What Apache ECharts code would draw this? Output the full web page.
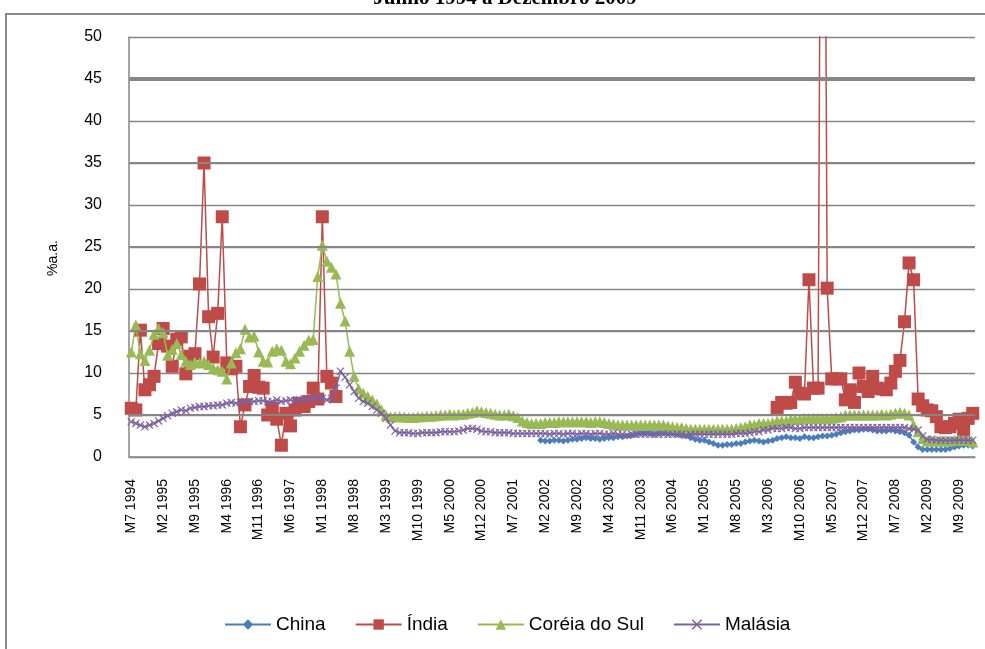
<!DOCTYPE html>
<html><head><meta charset="utf-8">
<script src="https://cdn.jsdelivr.net/npm/echarts@6/dist/echarts.min.js"></script>
<style>html,body{margin:0;padding:0;background:#fff;}#c{width:985px;height:649px;}</style>
</head><body><div id="c"></div>
<script>
// Monthly categories M7 1994 .. M12 2009
const startYear = 1994, startMonth = 7, nMonths = 186;
const categories = [];
for (let i = 0; i < nMonths; i++) {
  const m = (startMonth - 1 + i) % 12 + 1;
  const y = startYear + Math.floor((startMonth - 1 + i) / 12);
  categories.push('M' + m + ' ' + y);
}
const seriesNames = ['China', 'Índia', 'Coréia do Sul', 'Malásia'];

const china = [
  null,null,null,null,null,null,
  null,null,null,null,null,null,null,null,null,null,null,null,
  null,null,null,null,null,null,null,null,null,null,null,null,
  null,null,null,null,null,null,null,null,null,null,null,null,
  null,null,null,null,null,null,null,null,null,null,null,null,
  null,null,null,null,null,null,null,null,null,null,null,null,
  null,null,null,null,null,null,null,null,null,null,null,null,
  null,null,null,null,null,null,null,null,null,null,null,null,
  2.0,1.9,1.9,2.0,2.0,1.9,2.0,2.1,2.1,2.2,2.3,2.2,
  2.2,2.1,2.2,2.3,2.3,2.4,2.4,2.5,2.6,2.7,2.8,2.8,
  2.8,2.7,2.8,2.9,2.8,2.8,2.7,2.6,2.5,2.3,2.1,2.0,
  2.0,1.8,1.6,1.4,1.4,1.5,1.5,1.6,1.6,1.8,1.9,2.0,
  1.9,1.8,1.9,2.0,2.2,2.3,2.4,2.3,2.3,2.2,2.4,2.3,
  2.3,2.4,2.5,2.5,2.6,2.7,2.9,3.0,3.1,3.2,3.2,3.3,
  3.3,3.2,3.1,3.1,3.1,3.2,3.1,3.0,2.9,2.6,1.8,1.2,
  0.9,0.9,0.9,0.9,0.9,0.9,1.0,1.2,1.3,1.4,1.4,1.3
];
const india = [
  5.8,5.6,15.1,8.0,8.6,9.6,
  13.5,15.3,13.2,10.8,14.0,14.3,9.9,12.0,12.3,20.6,35.0,16.7,
  11.9,17.1,28.6,11.2,10.5,10.8,3.6,6.2,8.4,9.7,8.3,8.2,
  5.0,5.8,4.5,1.4,5.2,3.7,5.6,6.4,6.0,6.6,8.2,6.9,
  28.6,9.6,8.8,7.2,null,null,null,null,null,null,null,null,
  null,null,null,null,null,null,null,null,null,null,null,null,
  null,null,null,null,null,null,null,null,null,null,null,null,
  null,null,null,null,null,null,null,null,null,null,null,null,
  null,null,null,null,null,null,null,null,null,null,null,null,
  null,null,null,null,null,null,null,null,null,null,null,null,
  null,null,null,null,null,null,null,null,null,null,null,null,
  null,null,null,null,null,null,null,null,null,null,null,null,
  null,null,null,null,5.9,6.5,6.4,6.5,8.9,7.6,7.5,21.1,
  8.2,8.2,130,20.1,9.3,9.3,9.3,6.8,8.0,6.5,10.0,8.4,
  7.8,9.6,8.2,8.1,8.0,8.8,10.2,11.5,16.1,23.1,21.1,6.9,
  6.1,5.6,5.5,4.8,3.6,3.5,3.6,4.0,4.5,3.2,4.6,5.2
];
const korea = [
  12.5,15.7,12.3,11.5,12.7,14.6,
  15.3,14.8,12.1,12.8,13.5,12.2,11.4,11.0,11.3,11.2,11.4,11.0,
  10.6,10.4,10.2,9.3,11.2,12.4,12.9,15.2,14.3,14.4,12.5,11.4,
  11.3,12.6,12.9,12.7,11.4,11.1,11.8,12.6,13.3,13.9,14.0,21.5,
  25.2,23.3,22.6,21.8,18.3,16.2,12.6,9.6,8.1,7.6,7.2,6.8,
  6.3,5.6,5.0,4.8,4.8,4.8,4.75,4.7,4.7,4.8,4.8,4.85,
  4.85,4.9,5.0,5.0,5.1,5.0,5.1,5.1,5.2,5.3,5.5,5.4,
  5.3,5.2,5.1,5.0,5.0,5.1,4.9,4.7,4.3,4.1,4.0,4.0,
  4.0,4.1,4.1,4.1,4.2,4.2,4.2,4.2,4.2,4.2,4.2,4.1,
  4.2,4.2,4.1,4.0,3.9,3.8,3.8,3.8,3.8,3.8,3.8,3.8,
  3.8,3.8,3.8,3.8,3.7,3.6,3.5,3.5,3.4,3.3,3.3,3.3,
  3.3,3.3,3.3,3.3,3.3,3.3,3.3,3.4,3.5,3.6,3.8,3.8,
  4.0,4.0,4.0,4.1,4.3,4.3,4.3,4.5,4.5,4.5,4.6,4.6,
  4.6,4.6,4.6,4.6,4.6,4.7,4.8,5.0,5.0,5.0,5.0,5.0,
  5.0,5.0,5.0,5.1,5.0,5.1,5.2,5.3,5.2,5.0,3.8,3.0,
  2.2,1.9,1.9,1.9,1.9,1.9,1.9,2.0,2.0,2.0,2.0,1.8
];
const malaysia = [
  4.2,4.0,3.8,3.6,3.8,4.0,
  4.3,4.6,4.9,5.2,5.4,5.6,5.5,5.8,5.9,6.0,6.0,6.1,
  6.1,6.2,6.2,6.4,6.5,6.4,6.5,6.6,6.6,6.6,6.7,6.7,
  6.6,6.6,6.8,6.6,6.7,6.8,6.7,6.8,6.9,6.9,7.0,7.2,
  7.0,6.8,7.0,8.2,10.2,9.5,8.6,7.8,7.0,6.6,6.4,6.0,
  5.6,5.2,4.6,3.8,3.1,2.9,2.9,2.9,2.8,2.8,2.9,2.9,
  2.9,2.9,3.0,3.0,3.0,3.0,3.1,3.2,3.4,3.4,3.3,3.1,
  3.0,3.0,2.9,2.9,2.9,2.9,2.8,2.8,2.8,2.8,2.8,2.8,
  2.8,2.8,2.7,2.8,2.8,2.7,2.8,2.8,2.7,2.8,2.8,2.7,
  2.8,2.8,2.7,2.7,2.8,2.7,2.7,2.6,2.7,2.7,2.7,2.7,
  2.7,2.7,2.7,2.7,2.7,2.7,2.7,2.7,2.6,2.7,2.7,2.7,
  2.7,2.7,2.7,2.7,2.7,2.7,2.7,2.8,2.8,2.8,2.9,3.0,
  3.0,3.2,3.2,3.4,3.4,3.4,3.5,3.5,3.4,3.4,3.5,3.5,
  3.5,3.5,3.5,3.5,3.5,3.5,3.5,3.5,3.5,3.5,3.5,3.5,
  3.5,3.5,3.5,3.5,3.5,3.5,3.5,3.5,3.5,3.4,3.3,3.2,
  2.5,2.1,2.1,2.0,2.0,2.0,2.0,2.0,2.0,2.0,2.0,2.0
];
const emphasizedGrid = [5, 15, 25, 35];
const heavyGrid = [45];

const colors = ['#4A7EBB', '#BE4B48', '#98B954', '#7D60A0'];
const xSymbol = 'path://M0,1L1,0L5,4L9,0L10,1L6,5L10,9L9,10L5,6L1,10L0,9L4,5Z';

function mk(name, data, color, symbol, size, z) {
  return {
    name: name, type: 'line', data: data, symbol: symbol, symbolSize: size,
    showAllSymbol: true, connectNulls: false, z: z, animation: false,
    lineStyle: { color: color, width: 1.5 }, itemStyle: { color: color }
  };
}

const chart = echarts.init(document.getElementById('c'), null, { renderer: 'canvas' });
chart.setOption({
  animation: false,
  backgroundColor: '#fff',
  grid: { left: 129, right: 10, top: 37, bottom: 192, containLabel: false },
  graphic: [
    { type: 'rect', shape: { x: 6, y: 14, width: 1000, height: 700 },
      style: { fill: 'none', stroke: '#8a8a8a', lineWidth: 2 }, silent: true, z: -1 },
    { type: 'text', x: 505, y: 9,
      style: { text: 'Junho 1994 a Dezembro 2009', font: 'bold 21px "Liberation Serif"', fill: '#000',
               align: 'center', verticalAlign: 'bottom' }, silent: true },
    { type: 'text', x: 53, y: 258, rotation: Math.PI / 2,
      style: { text: '%a.a.', font: '14px "Liberation Sans"', fill: '#000',
               align: 'center', verticalAlign: 'middle' }, silent: true }
  ],
  legend: {
    data: seriesNames, left: 219, top: 610, itemWidth: 46, itemHeight: 13, itemGap: 29,
    textStyle: { fontSize: 19, fontFamily: 'Liberation Sans', color: '#000' }
  },
  xAxis: {
    type: 'category', data: categories, boundaryGap: true,
    axisLine: { lineStyle: { color: '#868686', width: 1.5 } },
    axisTick: { show: false },
    axisLabel: { interval: 6, rotate: 90, fontSize: 14, fontFamily: 'Liberation Sans', color: '#000', margin: 22 },
    splitLine: { show: false }
  },
  yAxis: {
    type: 'value', min: 0, max: 50, interval: 5,
    axisLine: { show: true, lineStyle: { color: '#868686', width: 1.5 } },
    axisTick: { show: false },
    axisLabel: { fontSize: 16, fontFamily: 'Liberation Sans', color: '#000', margin: 27 },
    splitLine: { lineStyle: { color: '#868686', width: 1.3 } }
  },
  series: [
    { type: 'line', data: [], z: 1, silent: true, animation: false,
      markLine: { silent: true, symbol: 'none', animation: false, label: { show: false },
        data: emphasizedGrid.map(v => ({ yAxis: v, lineStyle: { color: '#868686', width: 2.2, type: 'solid' } }))
          .concat(heavyGrid.map(v => ({ yAxis: v, lineStyle: { color: '#868686', width: 3.8, type: 'solid' } }))) } },
    mk(seriesNames[0], china, colors[0], 'diamond', 7, 2),
    mk(seriesNames[1], india, colors[1], 'rect', 13, 3),
    mk(seriesNames[2], korea, colors[2], 'triangle', 11, 4),
    mk(seriesNames[3], malaysia, colors[3], xSymbol, 8, 5)
  ]
});
</script>
</body></html>
